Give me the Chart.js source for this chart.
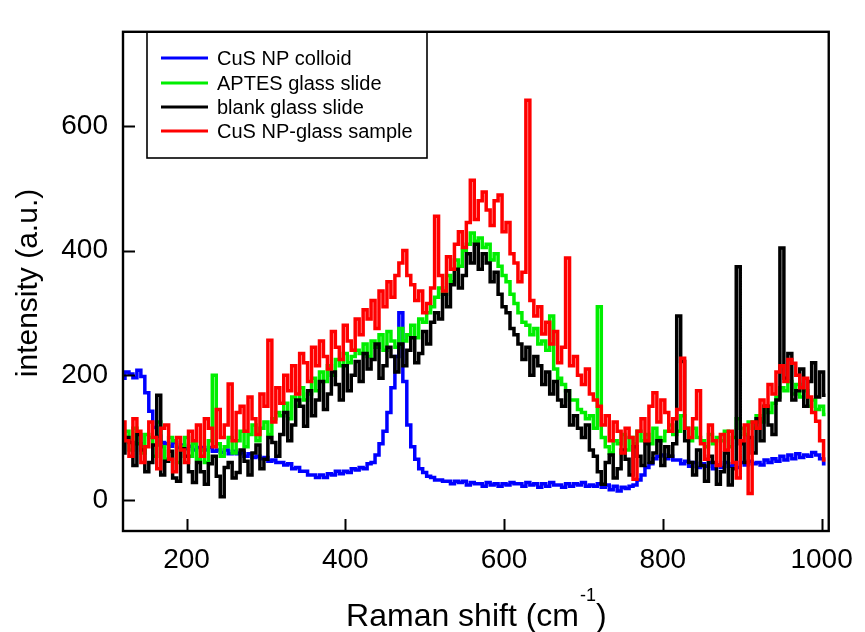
<!DOCTYPE html>
<html>
<head>
<meta charset="utf-8">
<script src="https://cdn.jsdelivr.net/npm/chart.js@4.4.1/dist/chart.umd.min.js"></script>
<style>
  html, body { margin: 0; padding: 0; background: #fff; }
  #c { display: block; }
</style>
</head>
<body>
<canvas id="c" width="865" height="632"></canvas>
<script>
// Raman shift grid (cm-1), one sample every 5 cm-1
const SHIFT = [
  120,125,130,135,140,145,150,155,160,165,170,175,180,185,190,195,200,205,210,215,
  220,225,230,235,240,245,250,255,260,265,270,275,280,285,290,295,300,305,310,315,
  320,325,330,335,340,345,350,355,360,365,370,375,380,385,390,395,400,405,410,415,
  420,425,430,435,440,445,450,455,460,465,470,475,480,485,490,495,500,505,510,515,
  520,525,530,535,540,545,550,555,560,565,570,575,580,585,590,595,600,605,610,615,
  620,625,630,635,640,645,650,655,660,665,670,675,680,685,690,695,700,705,710,715,
  720,725,730,735,740,745,750,755,760,765,770,775,780,785,790,795,800,805,810,815,
  820,825,830,835,840,845,850,855,860,865,870,875,880,885,890,895,900,905,910,915,
  920,925,930,935,940,945,950,955,960,965,970,975,980,985,990,995,1000,1005
];

// CuS NP colloid
const COLLOID = [
  195,205,202,196,208,198,172,142,116,102,92,90,86,92,84,88,82,86,80,84,
  84,80,84,78,80,76,80,74,78,74,76,70,74,68,70,66,68,62,64,60,
  60,56,58,50,52,46,46,40,40,36,40,36,42,40,46,42,46,44,50,48,
  52,50,58,60,72,90,110,140,180,230,300,190,120,85,65,50,44,38,36,32,
  32,30,30,26,30,28,30,24,28,26,26,22,28,24,26,22,26,24,28,26,
  26,22,28,24,26,20,26,22,28,24,24,20,26,22,26,24,28,22,24,22,
  26,20,24,16,22,14,20,18,22,24,32,40,52,58,66,70,72,66,70,64,
  64,58,62,54,60,52,58,54,60,50,56,52,60,54,58,52,60,56,62,58,
  60,56,64,60,66,62,70,64,72,66,74,68,72,70,76,72,66,58
];

// APTES glass slide
const APTES = [
  95,110,80,115,90,75,105,100,70,125,85,65,100,95,60,85,100,70,90,65,
  80,60,95,200,90,70,85,100,75,95,110,85,105,120,95,115,125,105,130,140,
  135,155,130,165,150,180,160,170,195,175,205,190,215,200,225,215,235,220,230,240,
  235,250,230,255,245,265,240,270,255,245,275,255,265,280,260,290,285,300,310,325,
  340,330,360,350,385,375,400,410,428,415,420,405,410,385,395,375,360,350,330,315,
  300,285,280,265,275,250,255,240,295,210,195,185,175,160,160,145,140,130,135,115,
  310,100,85,75,95,90,105,80,100,90,110,95,105,90,115,100,95,110,120,105,
  110,135,115,95,115,100,95,85,105,90,100,95,110,85,100,130,115,105,125,115,
  135,125,150,140,155,165,180,175,190,170,185,165,175,150,160,145,150,137
];

// blank glass slide
const BLANK = [
  75,100,92,55,105,80,45,60,88,168,40,62,78,35,30,82,70,45,28,60,
  45,25,58,70,38,5,52,60,35,44,80,62,40,75,88,50,65,100,92,70,
  105,140,95,120,160,150,118,175,135,160,190,145,170,205,185,160,215,175,200,222,
  190,235,210,225,250,195,215,245,230,205,250,215,240,260,220,235,270,250,285,300,
  290,330,310,345,370,340,360,395,380,410,370,395,380,350,365,330,310,300,275,265,
  250,225,245,200,230,215,185,205,170,190,160,150,175,120,135,115,100,120,80,70,
  45,25,60,72,35,50,80,65,40,85,70,55,90,60,75,95,55,85,70,90,
  295,222,95,60,40,80,55,30,70,60,25,45,75,24,50,374,90,60,100,75,
  130,95,150,120,105,160,404,195,235,160,175,210,150,190,220,165,205,168
];

// CuS NP-glass sample
const SAMPLE = [
  125,95,70,130,110,60,85,125,100,50,115,120,65,45,100,80,60,110,95,120,
  70,130,115,85,145,100,120,186,95,140,150,110,165,130,105,170,150,256,125,180,
  155,200,175,215,170,235,220,190,245,215,255,230,210,270,245,225,280,255,240,290,
  265,305,290,320,275,335,310,350,325,360,380,400,360,345,320,335,300,315,340,455,
  360,335,390,370,410,430,405,445,513,450,480,494,465,440,480,489,430,445,395,380,
  350,365,641,320,295,310,266,285,250,270,220,245,388,215,230,200,185,210,170,160,
  150,120,135,95,125,110,75,115,100,33,110,130,95,150,172,125,160,140,110,130,
  145,227,115,100,130,175,90,65,120,95,55,105,80,110,60,35,95,120,10,125,
  115,160,150,185,170,205,215,190,225,219,200,180,195,165,140,126,95,64
];

const SERIES_NAMES = ['CuS NP colloid', 'APTES glass slide', 'blank glass slide', 'CuS NP-glass sample'];
const SERIES_COLORS = ['#0000ff', '#00ee00', '#000000', '#ff0000'];
const X_TICKS = [200, 400, 600, 800, 1000];
const Y_TICKS = [0, 200, 400, 600];
const X_TITLE = 'Raman shift (cm';
const Y_TITLE = 'intensity (a.u.)';

const FONT = '"Liberation Sans", Arial, sans-serif';

function toPoints(vals) {
  return SHIFT.map((x, i) => ({ x: x, y: vals[i] }));
}

// red on top, blue at the bottom
const DRAW_ORDER = [3, 2, 1, 0];
const datasets = [COLLOID, APTES, BLANK, SAMPLE].map((vals, i) => ({
  label: SERIES_NAMES[i],
  data: toPoints(vals),
  borderColor: SERIES_COLORS[i],
  backgroundColor: SERIES_COLORS[i],
  borderWidth: 3.5,
  pointRadius: 0,
  stepped: 'middle',
  fill: false,
  order: DRAW_ORDER[i],
}));

// frame, inward ticks, legend box and axis titles
const decorations = {
  id: 'decorations',
  afterDraw(chart) {
    const ctx = chart.ctx;
    const a = chart.chartArea;
    const xs = chart.scales.x, ys = chart.scales.y;
    ctx.save();
    ctx.strokeStyle = '#000';
    ctx.lineWidth = 2.4;
    ctx.strokeRect(a.left, a.top, a.right - a.left, a.bottom - a.top);

    ctx.lineWidth = 2;
    ctx.beginPath();
    X_TICKS.forEach(v => {
      const px = Math.round(xs.getPixelForValue(v)) + 0.5;
      ctx.moveTo(px, a.bottom);
      ctx.lineTo(px, a.bottom - 12);
    });
    Y_TICKS.forEach(v => {
      const py = Math.round(ys.getPixelForValue(v)) + 0.5;
      ctx.moveTo(a.left, py);
      ctx.lineTo(a.left + 12, py);
    });
    ctx.stroke();

    // legend
    ctx.lineWidth = 1.6;
    ctx.strokeRect(147, 32, 280, 126);
    ctx.font = '20px ' + FONT;
    ctx.textBaseline = 'middle';
    ctx.textAlign = 'left';
    const rows = [58, 83, 107, 131];
    SERIES_NAMES.forEach((name, i) => {
      ctx.strokeStyle = SERIES_COLORS[i];
      ctx.lineWidth = 3;
      ctx.beginPath();
      ctx.moveTo(161, rows[i]);
      ctx.lineTo(208, rows[i]);
      ctx.stroke();
      ctx.fillStyle = '#000';
      ctx.fillText(name, 217, rows[i] + 1);
    });

    // x title with superscript
    ctx.fillStyle = '#000';
    ctx.textBaseline = 'alphabetic';
    const mainFont = '32px ' + FONT, supFont = '18px ' + FONT;
    ctx.font = mainFont;
    const w1 = ctx.measureText(X_TITLE).width;
    const w3 = ctx.measureText(')').width;
    ctx.font = supFont;
    const w2 = ctx.measureText('-1').width;
    const cx = (a.left + a.right) / 2;
    const x0 = cx - (w1 + w2 + w3) / 2;
    ctx.font = mainFont;
    ctx.fillText(X_TITLE, x0, 626);
    ctx.font = supFont;
    ctx.fillText('-1', x0 + w1 + 1, 601);
    ctx.font = mainFont;
    ctx.fillText(')', x0 + w1 + w2 + 1, 626);

    // y title
    ctx.translate(29, 283);
    ctx.rotate(-Math.PI / 2);
    ctx.textAlign = 'center';
    ctx.textBaseline = 'middle';
    ctx.font = '30px ' + FONT;
    ctx.fillText(Y_TITLE, 0, 0);
    ctx.restore();
  }
};

new Chart(document.getElementById('c'), {
  type: 'line',
  data: { datasets: datasets },
  options: {
    responsive: false,
    animation: false,
    events: [],
    layout: { padding: { left: 0, top: 14, right: 26, bottom: 0 } },
    plugins: { legend: { display: false }, tooltip: { enabled: false } },
    scales: {
      x: {
        type: 'linear',
        min: 120,
        max: 1009,
        afterBuildTicks: s => { s.ticks = X_TICKS.map(v => ({ value: v })); },
        afterFit: s => { s.height = 101; },
        grid: { display: false, drawTicks: false },
        border: { display: false },
        ticks: { color: '#000', font: { family: FONT, size: 28 }, padding: 12, maxRotation: 0, autoSkip: false, callback: v => String(v) },
      },
      y: {
        type: 'linear',
        min: -50,
        max: 751,
        afterBuildTicks: s => { s.ticks = Y_TICKS.map(v => ({ value: v })); },
        afterFit: s => { s.width = 123; },
        grid: { display: false, drawTicks: false },
        border: { display: false },
        ticks: { color: '#000', font: { family: FONT, size: 28 }, padding: 15, callback: v => String(v) },
      },
    },
  },
  plugins: [decorations],
});
</script>
</body>
</html>
